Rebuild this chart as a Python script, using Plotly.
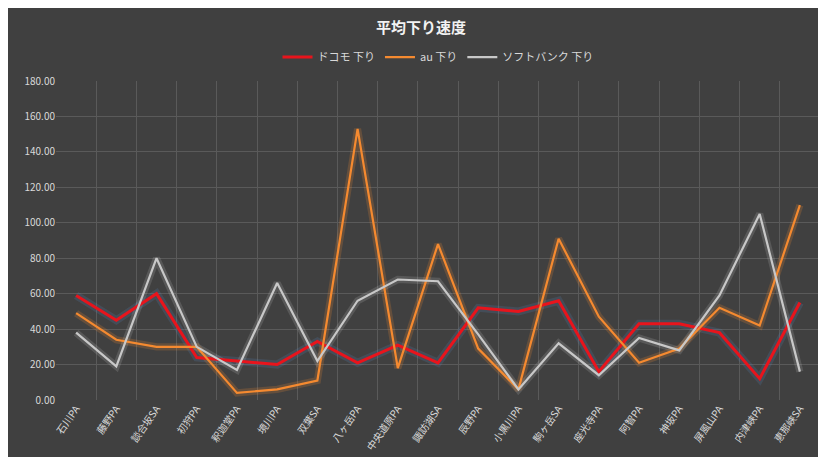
import plotly.graph_objects as go

categories = ["石川PA","藤野PA","談合坂SA","初狩PA","釈迦堂PA","境川PA","双葉SA","八ヶ岳PA","中央道原PA","諏訪湖SA",
              "辰野PA","小黒川PA","駒ヶ岳SA","座光寺PA","阿智PA","神坂PA","屏風山PA","内津峡PA","恵那峡SA"]
docomo = [59, 45, 60, 24, 22, 20, 33, 21, 31, 21, 52, 50, 56, 16, 43, 43, 38, 12, 55]
au = [49, 34, 30, 30, 4, 6, 11, 153, 18, 88, 29, 6, 91, 47, 21, 29, 52, 42, 110]
softbank = [38, 19, 80, 30, 17, 66, 22, 56, 68, 67, 37, 6, 32, 14, 35, 28, 59, 105, 16]

series = [
    ("ドコモ 下り", docomo, "#e8141c", "rgba(90,140,200,0.18)", 3),
    ("au 下り", au, "#f58a30", "rgba(245,138,48,0.2)", 2.2),
    ("ソフトバンク 下り", softbank, "#c8c8c8", "rgba(230,230,230,0.15)", 2.2),
]

fig = go.Figure()
for name, vals, col, glow, w in series:
    fig.add_trace(go.Scatter(x=categories, y=vals, mode="lines", line=dict(color=glow, width=w+5),
                             showlegend=False, hoverinfo="skip"))
for name, vals, col, glow, w in series:
    fig.add_trace(go.Scatter(x=categories, y=vals, mode="lines", name=name, line=dict(color=col, width=w)))

fig.update_layout(
    width=826, height=457,
    paper_bgcolor="#404040", plot_bgcolor="#404040",
    margin=dict(l=48, r=14, t=73, b=63),
    title=dict(text="<b>平均下り速度</b>", x=0.5, y=1-20/457, yref="container", xanchor="center", yanchor="middle",
               font=dict(size=15, color="#f2f2f2", family="Noto Sans CJK JP")),
    legend=dict(orientation="h", x=0.5, xanchor="center", y=1.075, yanchor="middle",
                font=dict(size=11, color="#d9d9d9", family="Noto Sans CJK JP"), bgcolor="rgba(0,0,0,0)"),
    font=dict(family="Noto Sans CJK JP", color="#d9d9d9"),
)
fig.update_xaxes(type="category", tickson="boundaries", range=[-0.5, 18.5], showgrid=True, gridcolor="#5a5a5a", gridwidth=1,
                 tickangle=-55, tickfont=dict(size=10, color="#d9d9d9"), showline=False, ticks="", zeroline=False)
fig.update_yaxes(range=[0, 180], dtick=20, tickformat=".2f", showgrid=True, gridcolor="#5a5a5a",
                 tickfont=dict(size=10, color="#d9d9d9"), zeroline=False, showline=False)
fig.write_html("out.html")
